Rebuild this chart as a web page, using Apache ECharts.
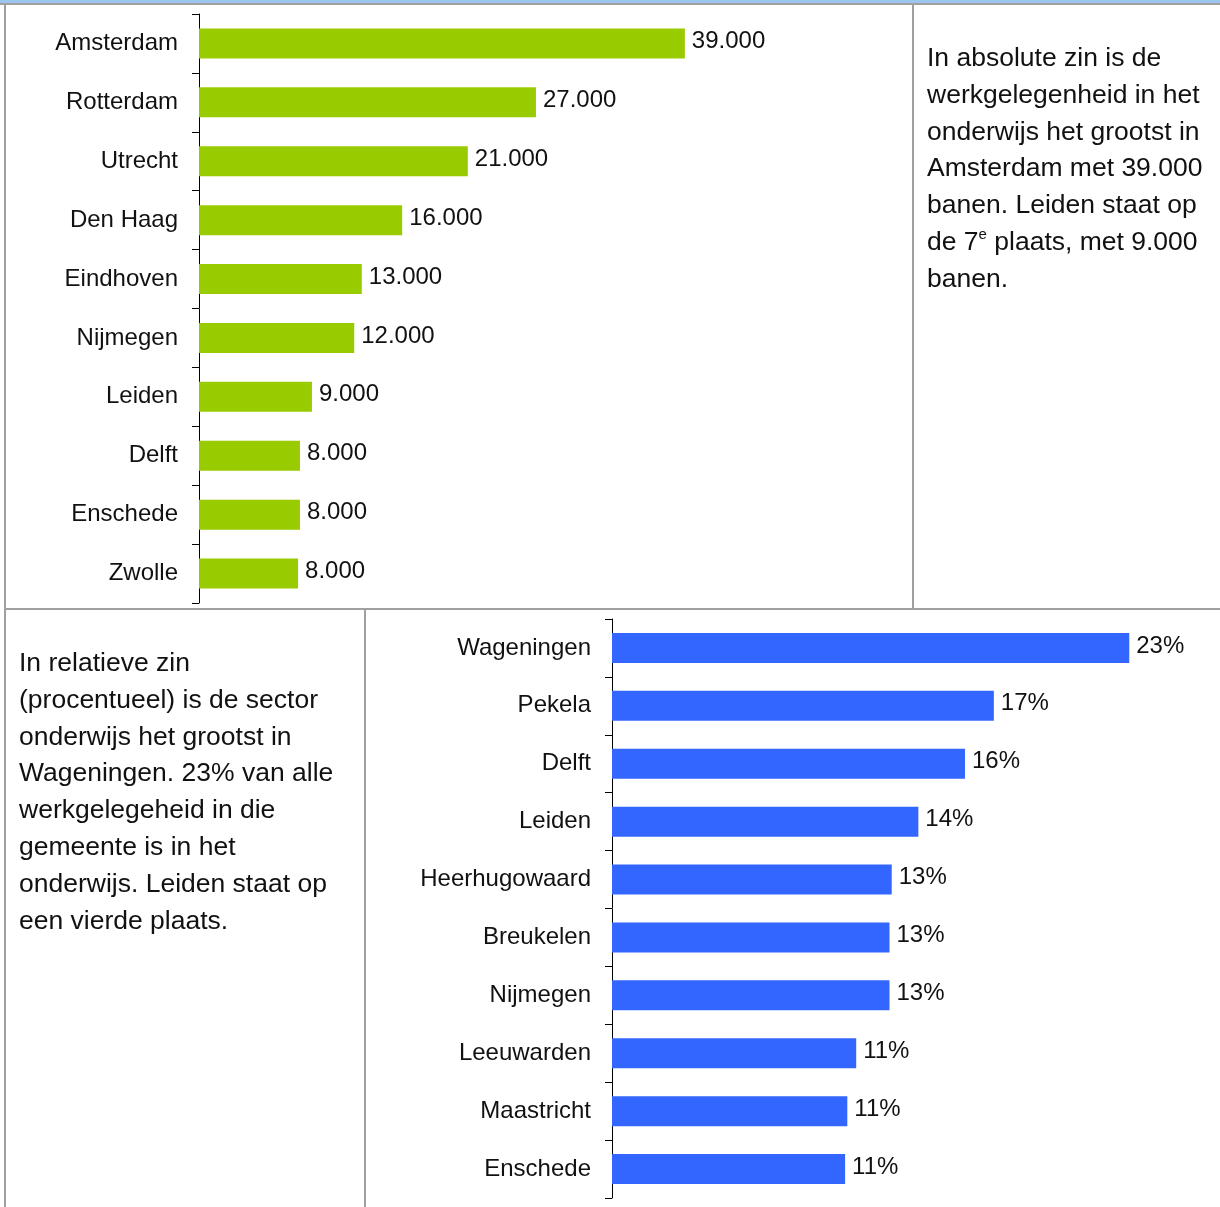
<!DOCTYPE html>
<html>
<head>
<meta charset="utf-8">
<script src="https://cdn.jsdelivr.net/npm/echarts@6.0.0/dist/echarts.min.js"></script>
<style>
    html, body { margin: 0; padding: 0; background: #fff; }
    #page { position: relative; width: 1220px; height: 1207px; overflow: hidden; }
    #chart { position: absolute; left: 0; top: 0; width: 1220px; height: 1207px; }
    .line { position: absolute; background: #a0a0a0; }
    .note {
        position: absolute;
        font-family: "Liberation Sans", Arial, sans-serif;
        font-size: 26.5px;
        line-height: 36.8px;
        color: #111;
        white-space: nowrap;
    }
    .note sup { font-size: 15px; line-height: 0; vertical-align: 11px; }
</style>
</head>
<body>
<div id="page">
    <div id="chart"></div>
    <div class="line" style="left:0;top:0;width:1220px;height:3px;background:#9ec5ec"></div>
    <div class="line" style="left:0;top:3px;width:1220px;height:2px"></div>
    <div class="line" style="left:4px;top:3px;width:2px;height:1204px"></div>
    <div class="line" style="left:912px;top:3px;width:2px;height:606px"></div>
    <div class="line" style="left:4px;top:608px;width:1216px;height:2px"></div>
    <div class="line" style="left:364px;top:608px;width:2px;height:599px"></div>
    <div class="note" style="left:927px;top:39px">
        In absolute zin is de<br>werkgelegenheid in het<br>onderwijs het grootst in<br>Amsterdam met 39.000<br>banen. Leiden staat op<br>de 7<sup>e</sup> plaats, met 9.000<br>banen.
    </div>
    <div class="note" style="left:19px;top:644px">
        In relatieve zin<br>(procentueel) is de sector<br>onderwijs het grootst in<br>Wageningen. 23% van alle<br>werkgelegeheid in die<br>gemeente is in het<br>onderwijs. Leiden staat op<br>een vierde plaats.
    </div>
</div>
<script>
// werkgelegenheid onderwijs, absoluut (banen)
const absCities = ["Amsterdam", "Rotterdam", "Utrecht", "Den Haag", "Eindhoven", "Nijmegen", "Leiden", "Delft", "Enschede", "Zwolle"];
const absValues = [38500, 26700, 21300, 16100, 12900, 12300, 8950, 8000, 8000, 7850];
const absLabels = ["39.000", "27.000", "21.000", "16.000", "13.000", "12.000", "9.000", "8.000", "8.000", "8.000"];

// aandeel onderwijs in totale werkgelegenheid (%)
const relCities = ["Wageningen", "Pekela", "Delft", "Leiden", "Heerhugowaard", "Breukelen", "Nijmegen", "Leeuwarden", "Maastricht", "Enschede"];
const relValues = [23.3, 17.2, 15.9, 13.8, 12.6, 12.5, 12.5, 11.0, 10.6, 10.5];
const relLabels = ["23%", "17%", "16%", "14%", "13%", "13%", "13%", "11%", "11%", "11%"];

const FONT = '"Liberation Sans", Arial, sans-serif';

const catAxis = (gridIndex, data) => ({
    type: "category",
    gridIndex,
    data,
    inverse: true,
    axisLine: {show: true, lineStyle: {color: "#000", width: 1}},
    axisTick: {show: true, length: 7, inside: false, lineStyle: {color: "#000", width: 1}},
    axisLabel: {color: "#111", fontSize: 24, fontFamily: FONT, margin: 21},
    splitLine: {show: false}
});

const valAxis = (gridIndex, max) => ({
    type: "value",
    gridIndex,
    min: 0,
    max,
    show: false,
    splitLine: {show: false}
});

const barSeries = (index, values, labels, color) => ({
    type: "bar",
    xAxisIndex: index,
    yAxisIndex: index,
    data: values,
    barWidth: 30,
    itemStyle: {color},
    animation: false,
    label: {
        show: true,
        position: "right",
        distance: 7,
        offset: [0, -2],
        color: "#111",
        fontSize: 24,
        fontFamily: FONT,
        formatter: p => labels[p.dataIndex]
    }
});

const chart = echarts.init(document.getElementById("chart"));
chart.setOption({
    animation: false,
    grid: [
        {left: 199, top: 14, width: 631, height: 589, containLabel: false, outerBoundsMode: "none"},
        {left: 612, top: 619, width: 555, height: 579, containLabel: false, outerBoundsMode: "none"}
    ],
    xAxis: [valAxis(0, 50000), valAxis(1, 25)],
    yAxis: [catAxis(0, absCities), catAxis(1, relCities)],
    series: [
        barSeries(0, absValues, absLabels, "#99cc00"),
        barSeries(1, relValues, relLabels, "#3366ff")
    ]
});
</script>
</body>
</html>
